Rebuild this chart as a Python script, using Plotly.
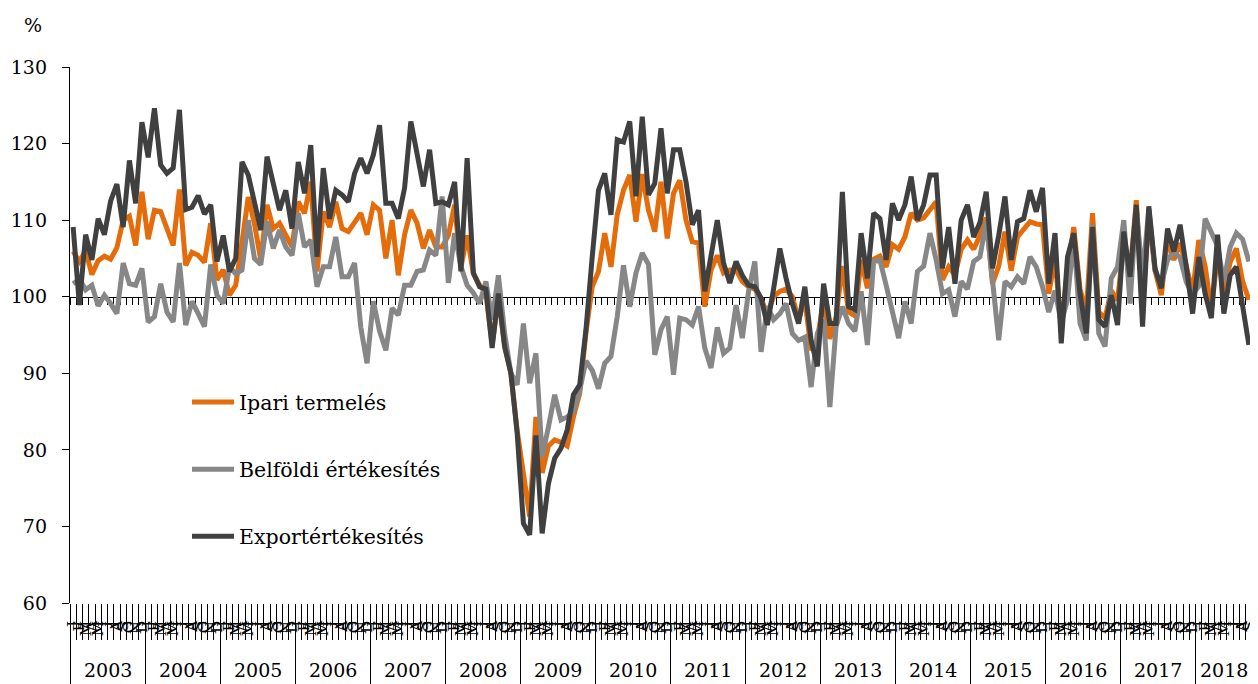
import plotly.graph_objects as go

years = list(range(2003, 2019))
month_initials = ["J", "F", "M", "Á", "M", "J", "J", "A", "S", "O", "N", "D"]
n_last = 9  # 2018: Jan-Sep

ipari = [
    105.9, 104.6, 106.0, 102.9, 104.7, 105.3, 104.9, 106.4, 110.0, 110.5, 106.7, 113.7,
    107.5, 111.3, 111.1, 108.9, 106.7, 114.0, 104.1, 105.8, 105.4, 104.5, 109.6, 102.2,
    103.5, 100.2, 101.5, 107.1, 113.0, 109.5, 104.8, 112.0, 108.9, 109.6, 108.1, 106.5,
    112.4, 110.9, 115.0, 103.3, 111.1, 109.1, 112.4, 108.9, 108.5, 109.8, 110.9, 108.1,
    112.0, 111.3, 105.0, 110.0, 102.8, 108.1, 111.3, 109.6, 106.3, 108.7, 106.5, 106.5,
    108.0, 112.0, 103.8, 108.0, 103.0, 101.5, 100.5, 93.8, 100.0, 93.5, 90.0, 82.5,
    76.5, 71.3, 84.3, 77.0, 80.5, 81.3, 81.0, 80.5, 84.3, 87.4, 95.3, 101.3,
    103.3, 108.3, 103.9, 110.7, 113.9, 115.9, 109.8, 116.0, 111.3, 108.5, 115.0, 107.6,
    113.5, 115.2, 110.0, 107.2, 107.0, 98.7, 103.5, 105.4, 103.1, 103.5, 103.5, 102.0,
    101.3, 101.0, 99.7, 97.8, 100.0, 100.7, 101.0, 100.0, 97.0, 99.7, 93.0, 94.5,
    99.5, 94.5, 97.4, 104.0, 98.0, 97.5, 104.8, 101.1, 104.9, 105.3, 103.9, 106.8,
    106.2, 107.8, 110.9, 110.0, 110.3, 111.3, 112.4, 102.2, 103.9, 102.8, 106.2, 107.4,
    106.2, 108.0, 110.3, 101.7, 104.0, 108.5, 103.4, 107.8, 108.8, 109.8, 109.5, 109.4,
    100.4, 105.0, 96.0, 103.5, 109.1, 101.0, 98.0, 110.9, 98.0, 97.2, 100.8, 99.5,
    107.0, 103.0, 112.6, 99.0, 110.5, 103.4, 100.2, 107.5, 104.8, 107.0, 104.0, 100.5,
    107.4, 104.0, 98.3, 105.5, 100.5, 104.5, 106.3, 102.0, 99.6,
]

belfoldi = [
    101.7, 102.3, 100.9, 101.5, 98.8, 100.2, 99.1, 97.8, 104.4, 101.7, 101.5, 103.7,
    96.7, 97.4, 101.7, 98.0, 96.7, 104.4, 96.3, 99.4, 97.8, 96.1, 104.2, 100.2,
    99.1, 103.9, 103.0, 103.5, 110.0, 105.0, 104.2, 109.8, 106.3, 108.7, 106.5, 105.4,
    110.9, 106.5, 107.4, 101.3, 103.9, 103.9, 107.8, 102.6, 102.6, 104.4, 96.0, 91.3,
    99.4, 95.5, 93.0, 98.5, 97.6, 101.5, 101.5, 103.3, 103.5, 106.1, 105.4, 113.1,
    101.8, 108.3, 104.0, 101.5, 100.5, 99.1, 102.0, 97.0, 102.8, 95.2, 90.0, 88.5,
    96.5, 88.7, 92.6, 79.1, 83.0, 87.2, 83.9, 84.3, 85.0, 87.8, 91.6, 90.4,
    88.0, 91.3, 92.2, 97.4, 104.1, 98.7, 103.1, 105.7, 104.2, 92.4, 95.7, 97.4,
    89.8, 97.2, 97.0, 96.3, 98.7, 93.3, 90.7, 96.0, 92.6, 93.3, 98.9, 94.6,
    100.7, 104.6, 92.8, 98.7, 97.0, 97.8, 99.1, 95.2, 94.3, 94.7, 88.2, 95.2,
    97.0, 85.6, 96.1, 98.7, 96.5, 95.5, 100.7, 93.7, 104.6, 104.8, 101.5, 97.8,
    94.6, 99.4, 96.5, 103.3, 104.0, 108.3, 104.8, 100.4, 100.9, 97.4, 102.0, 101.0,
    104.6, 105.2, 109.8, 102.2, 94.3, 102.0, 101.3, 102.6, 101.7, 105.2, 103.9, 101.3,
    98.0, 100.8, 96.6, 99.6, 107.8, 96.5, 94.3, 109.4, 95.2, 93.5, 102.4, 103.9,
    110.0, 99.1, 111.5, 102.6, 111.5, 103.4, 101.6, 104.8, 105.9, 105.1, 101.9, 100.3,
    101.4, 110.2, 108.5, 106.6, 101.9, 106.5, 108.3, 107.5, 104.6,
]

export = [
    109.1, 98.9, 108.1, 104.8, 110.2, 108.1, 112.5, 114.7, 109.1, 117.8, 112.2, 122.8,
    118.2, 124.6, 117.2, 116.1, 116.8, 124.4, 111.4, 111.7, 113.2, 110.8, 112.0, 104.6,
    108.0, 103.3, 105.0, 117.6, 115.9, 112.2, 108.7, 118.3, 114.6, 111.3, 113.9, 108.9,
    117.6, 113.5, 119.8, 105.2, 116.8, 110.2, 113.9, 113.3, 112.4, 116.1, 118.1, 116.1,
    118.5, 122.4, 112.2, 112.2, 110.2, 114.2, 122.9, 118.7, 114.4, 119.2, 112.2, 112.4,
    112.0, 115.0, 103.3, 118.1, 103.1, 101.3, 101.0, 93.3, 100.4, 93.5, 90.0, 82.2,
    70.4, 68.9, 81.9, 69.1, 75.6, 78.9, 80.2, 82.6, 87.2, 88.5, 95.7, 105.2,
    113.9, 116.1, 110.7, 120.5, 120.2, 122.9, 113.1, 123.5, 113.3, 114.8, 122.0, 113.5,
    119.2, 119.2, 115.0, 109.4, 111.3, 100.7, 105.5, 110.0, 104.4, 101.8, 104.6, 102.8,
    101.5, 101.3, 99.8, 96.3, 101.0, 106.3, 102.4, 99.1, 96.5, 101.3, 94.3, 90.9,
    101.7, 96.5, 96.5, 113.7, 98.7, 98.3, 108.3, 102.4, 110.9, 110.2, 104.8, 112.2,
    110.0, 112.0, 115.7, 110.0, 112.0, 115.9, 115.9, 103.7, 109.1, 101.7, 110.0, 112.0,
    107.8, 109.7, 113.7, 103.7, 108.0, 113.1, 104.8, 109.8, 110.2, 113.9, 111.1, 114.2,
    101.7, 108.3, 93.9, 105.2, 108.3, 100.4, 95.2, 109.1, 97.0, 96.1, 100.2, 96.3,
    108.5, 102.6, 112.0, 96.1, 111.8, 103.7, 101.1, 108.9, 105.9, 109.4, 103.9, 97.8,
    105.2, 100.4, 97.2, 108.1, 97.8, 102.8, 103.9, 99.1, 93.7,
]

series_names = ["Ipari termelés", "Belföldi értékesítés", "Exportértékesítés"]
series_colors = ["#E46C0A", "#878787", "#404040"]

# one category per month
month_ids, month_text, year_spans = [], [], []
for y in years:
    nm = n_last if y == years[-1] else 12
    start = len(month_ids)
    for m in range(nm):
        month_ids.append(f"{y}-{m + 1:02d}")
        month_text.append(month_initials[m])
    year_spans.append((y, start, len(month_ids) - 1))
n = len(month_ids)

month_bounds = [i - 0.5 for i in range(n + 1)]
year_bounds = [s - 0.5 for _, s, _ in year_spans] + [n - 0.5]

FONT = "DejaVu Serif"
fig = go.Figure()
for name, vals, col in zip(series_names, [ipari, belfoldi, export], series_colors):
    fig.add_trace(go.Scatter(
        x=month_ids, y=vals, mode="lines", name=name,
        line=dict(color=col, width=5), legendgroup=name,
    ))

# empty carriers for the helper axes
for ax in ["x2", "x3", "x4"]:
    fig.add_trace(go.Scatter(x=[], y=[], xaxis=ax, showlegend=False, hoverinfo="skip"))

ymin, ymax, ycross = 60, 130, 100
xr = [-0.5, n - 0.5]
helper = dict(overlaying="x", range=xr, showgrid=False, zeroline=False,
              tickmode="array", showticklabels=False, tickcolor="black",
              tickwidth=1.3, ticks="outside", automargin=False)

annotations = [dict(
    text="%", xref="paper", yref="paper", x=-0.031, y=1.078,
    xanchor="center", yanchor="middle", showarrow=False,
    font=dict(family=FONT, size=19),
)]
for y, s, e in year_spans:
    annotations.append(dict(
        text=str(y), xref="x", yref="paper", x=(s + e) / 2, y=-0.125,
        xanchor="center", yanchor="middle", showarrow=False,
        font=dict(family=FONT, size=19),
    ))

fig.update_layout(
    width=1250, height=676,
    margin=dict(l=62, r=6, t=59, b=81, autoexpand=False),
    paper_bgcolor="white", plot_bgcolor="white",
    font=dict(family=FONT, size=19, color="black"),
    showlegend=True,
    legend=dict(
        x=0.099, y=0.412, xanchor="left", yanchor="top",
        font=dict(family=FONT, size=20.5, color="black"),
        bgcolor="rgba(0,0,0,0)", tracegroupgap=37.5, traceorder="grouped",
        itemwidth=42,
    ),
    xaxis=dict(
        type="category", range=xr, showgrid=False, zeroline=False, showline=False,
        ticks="", tickmode="array", tickvals=month_ids, ticktext=month_text,
        tickangle=-90, tickfont=dict(family=FONT, size=15),
        ticklabelstandoff=14, automargin=False,
    ),
    xaxis2=dict(helper, anchor="free", position=(ycross - ymin) / (ymax - ymin),
                showline=True, linecolor="black", linewidth=1.3,
                tickvals=month_bounds, ticklen=7, layer="below traces"),
    xaxis3=dict(helper, anchor="y", tickvals=month_bounds, ticklen=36),
    xaxis4=dict(helper, anchor="y", tickvals=year_bounds, ticklen=81),
    yaxis=dict(
        range=[ymin, ymax], dtick=10, showgrid=False, zeroline=False,
        showline=True, linecolor="black", linewidth=1.3,
        ticks="outside", ticklen=7, tickcolor="black", tickwidth=1.3,
        tickfont=dict(family=FONT, size=19), ticklabelstandoff=11,
        automargin=False,
    ),
    annotations=annotations,
)

fig.write_html("out.html")
